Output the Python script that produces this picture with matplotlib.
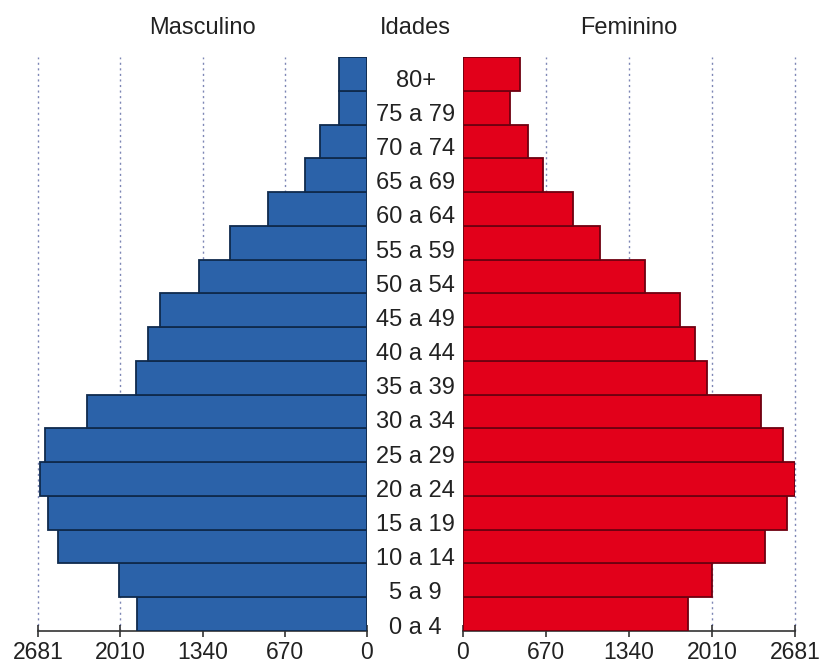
import matplotlib
matplotlib.use('Agg')
import matplotlib.pyplot as plt
import matplotlib.transforms as mtransforms

plt.rcParams['font.family'] = ['Liberation Sans', 'DejaVu Sans']

# age groups, bottom to top
idades = ['0 a 4', '5 a 9', '10 a 14', '15 a 19', '20 a 24', '25 a 29',
          '30 a 34', '35 a 39', '40 a 44', '45 a 49', '50 a 54', '55 a 59',
          '60 a 64', '65 a 69', '70 a 74', '75 a 79', '80+']
masculino = [1875, 2021, 2518, 2600, 2665, 2624, 2282, 1883, 1785, 1687,
             1369, 1117, 807, 505, 383, 228, 228]
feminino = [1817, 2011, 2439, 2617, 2681, 2585, 2407, 1971, 1874, 1753,
            1470, 1107, 889, 646, 525, 380, 460]
ticks = [0, 670, 1340, 2010, 2681]
xmax = 2681

fig = plt.figure(figsize=(8.2, 6.68), dpi=100)
axL = fig.add_axes([0.0463, 0.0554, 0.4012, 0.8593])
axR = fig.add_axes([0.5646, 0.0554, 0.4049, 0.8593])

y = list(range(len(idades)))
axL.barh(y, masculino, height=1.0, color='#2b62a9', edgecolor='#0f2a4d',
         linewidth=1.3, zorder=3)
axR.barh(y, feminino, height=1.0, color='#e2001a', edgecolor='#6e0010',
         linewidth=1.3, zorder=3)

axL.set_xlim(xmax, 0)
axR.set_xlim(0, xmax)

for ax in (axL, axR):
    ax.set_ylim(-0.5, len(idades) - 0.5)
    ax.set_yticks([])
    for s in ('top', 'right', 'left'):
        ax.spines[s].set_visible(False)
    ax.spines['bottom'].set_color('#333333')
    ax.spines['bottom'].set_linewidth(1.2)
    ax.set_xticks(ticks)
    ax.set_xticklabels([str(t) for t in ticks])
    ax.tick_params(axis='x', direction='inout', length=9, width=1.2,
                   colors='#333333', labelsize=16.5, labelcolor='#222222', pad=3)
    for t in ticks[1:]:
        ax.axvline(t, color='#7d86b5', linestyle=(0, (1.5, 2.5)), linewidth=1,
                   zorder=1, clip_on=False)

# age labels in the middle, sitting a bit low in each row
trans = mtransforms.blended_transform_factory(fig.transFigure, axL.transData)
n = len(idades)
for i, lab in enumerate(idades):
    off = 0.2 + 0.2 * (n - 1 - i) / (n - 1)
    fig.text(0.507, i - off, lab, transform=trans, ha='center', va='center',
             fontsize=17, color='#222222')

fig.text(202 / 820, 1 - 28 / 668, 'Masculino', ha='center', va='center',
         fontsize=17, color='#222222')
fig.text(415 / 820, 1 - 28 / 668, 'Idades', ha='center', va='center',
         fontsize=17, color='#222222')
fig.text(629 / 820, 1 - 28 / 668, 'Feminino', ha='center', va='center',
         fontsize=17, color='#222222')

fig.savefig('out.png', dpi=100)
